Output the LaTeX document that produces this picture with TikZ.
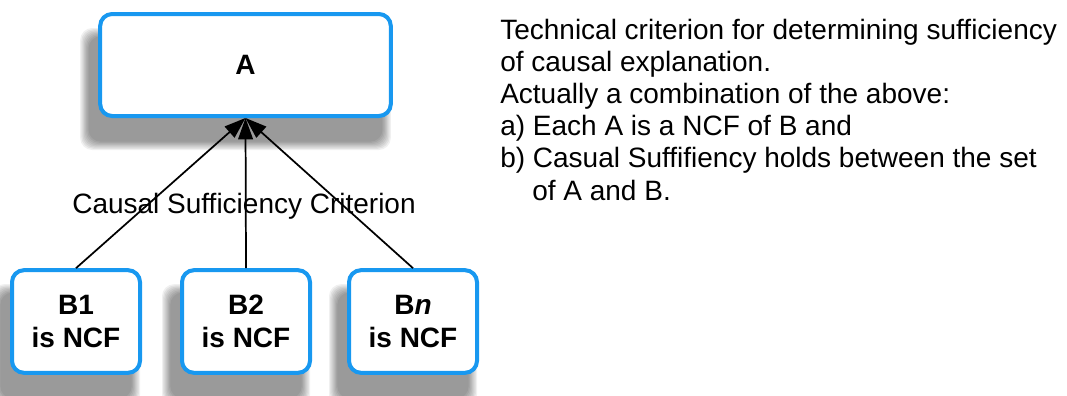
\documentclass[tikz,border=0pt]{standalone}
\usepackage{fontspec}
\setmainfont{Liberation Sans}
\usetikzlibrary{arrows.meta,backgrounds}
\definecolor{boxblue}{RGB}{24,152,240}
\begin{document}
\begin{tikzpicture}[x=0.75pt,y=-0.75pt,
  box/.style={draw=boxblue,line width=3pt,fill=white,rounded corners=9pt,inner sep=0pt,align=center,
    font=\fontsize{21}{24.75}\selectfont\bfseries},
  conn/.style={-{Triangle[length=16pt,width=11pt]},line width=1.3pt},
  txt/.style={anchor=base west,inner sep=0pt,font=\fontsize{21}{23.6}\selectfont},
  lbl/.style={anchor=base,inner sep=0pt,font=\fontsize{21}{23.6}\selectfont}]
\useasboundingbox (0,0) rectangle (1067,396);
\node[box,minimum width=218pt,minimum height=76.5pt] (A) at (245.5,65) {A};
\node[box,minimum width=96pt,minimum height=77pt] (B1) at (76,321.5) {B1\\is NCF};
\node[box,minimum width=96pt,minimum height=77pt] (B2) at (246,321.5) {B2\\is NCF};
\node[box,minimum width=96pt,minimum height=77pt] (Bn) at (413,321.5) {B\textit{n}\\is NCF};
\begin{pgfonlayer}{background}
\fill[white] (0,0) rectangle (1067,396);
\foreach \n in {A,B1,B2,Bn}{
  \foreach \i in {0,...,7}{
    \fill[black,opacity=0.06,rounded corners=9pt]
      ([xshift=-7.5pt+\i*0.9pt-6pt,yshift=-18pt+\i*0.9pt-6pt]\n.south west) rectangle
      ([xshift=-7.5pt-\i*0.9pt+6pt,yshift=-18pt-\i*0.9pt+6pt]\n.north east);
  }
}
\end{pgfonlayer}
\draw[conn] (B1.north) -- (A.south);
\draw[conn] (B2.north) -- (A.south);
\draw[conn] (Bn.north) -- (A.south);
\node[lbl] (crit) at (244,213) {Causal Sufficiency Criterion};
\node[txt] (t1) at (500,39) {Technical criterion for determining sufficiency};
\node[txt] (t2) at (500,71) {of causal explanation.};
\node[txt] (t3) at (500,103) {Actually a combination of the above:};
\node[txt] (t4) at (500,135) {a) Each A is a NCF of B and};
\node[txt] (t5) at (500,167) {b) Casual Suffifiency holds between the set};
\node[txt] (t6) at (532,200) {of A and B.};
\end{tikzpicture}
\end{document}
